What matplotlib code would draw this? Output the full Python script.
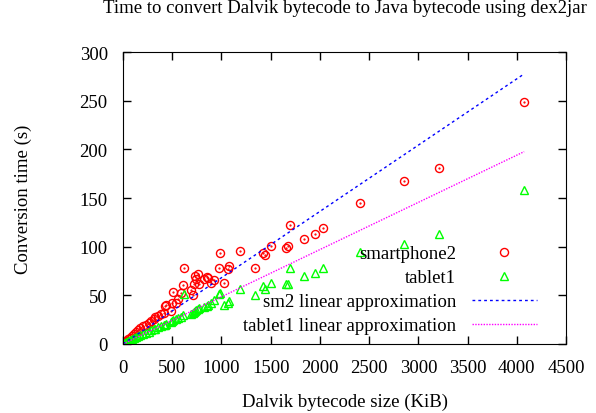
import matplotlib
matplotlib.use("Agg")
import matplotlib.pyplot as plt
import numpy as np

plt.rcParams['font.family'] = ['Liberation Serif', 'DejaVu Serif']
plt.rcParams['font.size'] = 13.5

# app sizes (KiB) and conversion times (s)
size_kib = [4070, 3210, 2855, 2407, 2034, 1948, 1836, 1696, 1676, 1652,
            1503, 1442, 1423, 1341, 1188, 1077, 1067, 1026, 985, 975,
            924, 894, 864, 854, 823, 772, 762, 742, 731, 721,
            711, 691, 620, 610, 590, 559, 539, 508, 498, 488,
            437, 426, 416, 388, 356, 325, 315, 286, 264, 235,
            203, 173, 153, 133, 112, 92, 71, 51, 31, 15, 5]
smartphone2 = [249, 181, 167, 145, 119, 113, 108, 122, 101, 99,
               101, 91, 94, 78, 96, 80, 77, 63, 94, 78,
               66, 63, 68, 69, 67, 62, 72, 67, 70, 62,
               50, 55, 78, 61, 52, 46, 42, 53, 42, 34,
               40, 39, 32, 31, 29, 28, 26, 24, 22, 20,
               19, 16, 14, 12, 10, 8, 6, 5, 3, 2, 1]
tablet1 = [158, 113, 103, 95, 78, 73, 70, 78, 62, 62,
           63, 57, 60, 50, 57, 44, 42, 40, 52, 51,
           45, 42, 40, 39, 38, 37, 36, 35, 34, 33,
           32, 31, 51, 30, 28, 27, 26, 25, 24, 23,
           21, 20, 20, 18, 17, 15, 15, 14, 12, 11,
           10, 9, 8, 7, 6, 5, 4, 3, 2, 1, 0.5]

# fitted slopes (s per KiB) of the two linear approximations
sm2_slope = 0.0681
tablet1_slope = 0.0485
fit_range = [0, 4075]

fig = plt.figure(figsize=(5.96, 4.14), dpi=100)
ax = fig.add_axes([123 / 596, 69 / 414, 443 / 596, 292 / 414])

ax.plot(size_kib, smartphone2, linestyle='none', marker='o', markersize=5.8,
        markerfacecolor='none', markeredgecolor='#ff0000', markeredgewidth=1,
        label='smartphone2')
ax.plot(size_kib, smartphone2, linestyle='none', marker='.', markersize=1.2,
        color='#ff0000')
ax.plot(size_kib, tablet1, linestyle='none', marker='^', markersize=6,
        markerfacecolor='none', markeredgecolor='#00ff00', markeredgewidth=1,
        label='tablet1')

fx = np.array(fit_range)
ax.plot(fx, sm2_slope * fx, color='#0000ff', linewidth=1,
        linestyle=(0, (2, 2.2)), label='sm2 linear approximation')
ax.plot(fx, tablet1_slope * fx, color='#ff00ff', linewidth=1,
        linestyle=(0, (1, 1)), label='tablet1 linear approximation')

ax.set_xlim(0, 4500)
ax.set_ylim(0, 300)
ax.set_xticks(np.arange(0, 4501, 500))
ax.set_yticks(np.arange(0, 301, 50))
ax.tick_params(direction='in', top=True, right=True, length=6, width=1)
ax.tick_params(axis='x', pad=11)
ax.tick_params(axis='y', pad=11)

ax.set_title('Time to convert Dalvik bytecode to Java bytecode using dex2jar',
             fontsize=13.5, y=1.123, va='center')
ax.set_xlabel('Dalvik bytecode size (KiB)', va='center')
ax.xaxis.set_label_coords(0.5, -0.195)
ax.set_ylabel('Conversion time (s)', va='center')
ax.yaxis.set_label_coords(-0.2257, 0.5)

ax.legend(loc='lower right', bbox_to_anchor=(0.9345, 0.034), frameon=False,
          markerfirst=False, handlelength=3.47, handletextpad=0.85,
          borderpad=0, borderaxespad=0, labelspacing=0.36)

fig.savefig('out.png', dpi=100)
